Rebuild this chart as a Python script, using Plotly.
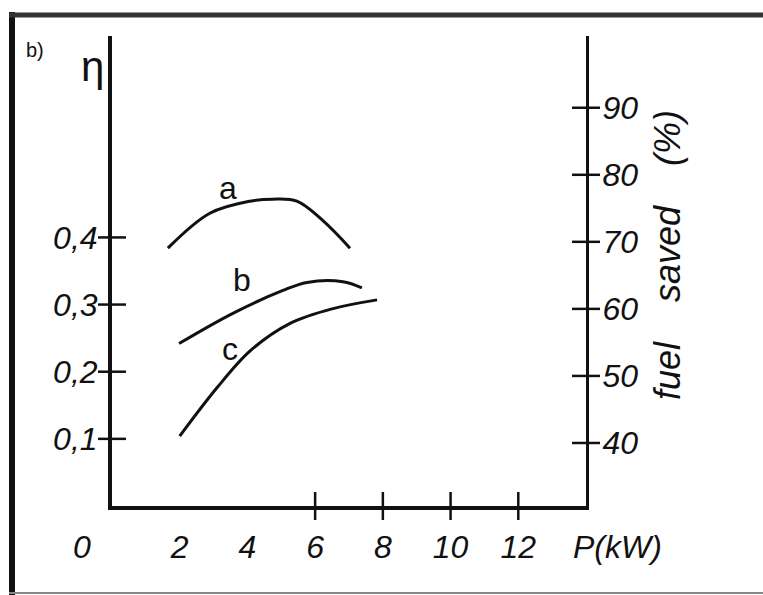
import plotly.graph_objects as go

# ---- data ----
P_a = [1.65, 2.89, 4.08, 4.75, 5.46, 6.23, 7.03]
eta_a = [0.384, 0.436, 0.454, 0.457, 0.454, 0.425, 0.384]

P_b = [1.98, 3.57, 5.05, 5.76, 6.82, 7.38]
eta_b = [0.242, 0.287, 0.321, 0.333, 0.334, 0.325]

P_c = [2.0, 3.1, 4.08, 5.26, 6.53, 7.83]
eta_c = [0.104, 0.176, 0.231, 0.272, 0.294, 0.307]

x_tickvals = [2, 4, 6, 8, 10, 12]
x_ticktext = ["2", "4", "6", "8", "10", "12"]
x_tickmarks = [6, 8, 10, 12]

eta_tickvals = [0.1, 0.2, 0.3, 0.4]
eta_ticktext = ["0,1", "0,2", "0,3", "0,4"]

fuel_tickvals = [40, 50, 60, 70, 80, 90]
fuel_ticktext = ["40", "50", "60", "70", "80", "90"]

curve_names = ["a", "b", "c"]
label_pos = [(3.43, 0.473), (3.84, 0.336), (3.48, 0.234)]

X_RANGE = [0, 14]
ETA_RANGE = [0, 0.70]
FUEL_RANGE = [30.6, 100.7]

FONT = "Liberation Sans"
ink = "#111111"

fig = go.Figure()
for P, eta in [(P_a, eta_a), (P_b, eta_b), (P_c, eta_c)]:
    fig.add_trace(go.Scatter(x=P, y=eta, mode="lines",
                             line=dict(color=ink, width=3, shape="spline", smoothing=1.0),
                             showlegend=False, hoverinfo="skip"))

# crossing tick marks
fig.add_trace(go.Scatter(x=[X_RANGE[0]] * len(eta_tickvals), y=eta_tickvals, mode="markers",
                         marker=dict(symbol="line-ew", size=20, line=dict(color=ink, width=2.5)),
                         cliponaxis=False, showlegend=False, hoverinfo="skip"))
fig.add_trace(go.Scatter(x=x_tickmarks, y=[ETA_RANGE[0]] * len(x_tickmarks), mode="markers",
                         marker=dict(symbol="line-ns", size=20, line=dict(color=ink, width=2.5)),
                         cliponaxis=False, showlegend=False, hoverinfo="skip"))
fig.add_trace(go.Scatter(x=[X_RANGE[1]] * len(fuel_tickvals), y=fuel_tickvals, mode="markers",
                         yaxis="y2",
                         marker=dict(symbol="line-ew", size=20, line=dict(color=ink, width=2.5)),
                         cliponaxis=False, showlegend=False, hoverinfo="skip"))

tickfont = dict(family=FONT, size=32, color=ink, style="italic")

fig.update_layout(
    width=763, height=595, autosize=False,
    margin=dict(l=112, r=177, t=36, b=89),
    paper_bgcolor="white", plot_bgcolor="white",
    xaxis=dict(range=X_RANGE, showline=True, linecolor=ink, linewidth=4,
               tickvals=x_tickvals, ticktext=x_ticktext, ticks="",
               ticklabelstandoff=10,
               showgrid=False, zeroline=False, tickfont=tickfont, fixedrange=True),
    yaxis=dict(range=ETA_RANGE, showline=True, linecolor=ink, linewidth=4,
               tickvals=eta_tickvals, ticktext=eta_ticktext, ticks="",
               ticklabelstandoff=4,
               showgrid=False, zeroline=False, tickfont=tickfont),
    yaxis2=dict(range=FUEL_RANGE, overlaying="y", side="right", anchor="x",
                showline=True, linecolor=ink, linewidth=3,
                tickvals=fuel_tickvals, ticktext=fuel_ticktext, ticks="",
                ticklabelstandoff=7,
                showgrid=False, zeroline=False, tickfont=tickfont),
)

def px2x(px):
    return (px - 112) / 474

def py2y(py):
    return (506 - py) / 470

c = dict(xanchor="center", yanchor="middle", showarrow=False)
ann = []
for name, (lx, ly) in zip(curve_names, label_pos):
    ann.append(dict(x=lx, y=ly, xref="x", yref="y", text=name,
                    font=dict(family=FONT, size=32, color=ink), **c))
ann += [
    dict(x=px2x(92), y=py2y(66), xref="paper", yref="paper", text="η",
         font=dict(family=FONT, size=42, color=ink), **c),
    dict(x=px2x(35), y=py2y(50), xref="paper", yref="paper", text="b)",
         font=dict(family=FONT, size=20, color=ink), **c),
    dict(x=px2x(82), y=py2y(547), xref="paper", yref="paper", text="0",
         font=tickfont, **c),
    dict(x=px2x(617), y=py2y(547), xref="paper", yref="paper", text="P(kW)",
         font=tickfont, **c),
    dict(x=px2x(668), y=py2y(255), xref="paper", yref="paper", text="fuel    saved    (%)",
         textangle=-90,
         font=dict(family=FONT, size=36, color=ink, style="italic"), **c),
]
fig.update_layout(annotations=ann)

# page frame of the scanned figure
fig.update_layout(shapes=[
    dict(type="line", xref="paper", yref="paper", x0=px2x(12), x1=px2x(12),
         y0=py2y(12), y1=py2y(600), line=dict(color=ink, width=6)),
    dict(type="line", xref="paper", yref="paper", x0=px2x(9), x1=px2x(770),
         y0=py2y(15), y1=py2y(15), line=dict(color="#333333", width=5)),
    dict(type="line", xref="paper", yref="paper", x0=px2x(9), x1=px2x(770),
         y0=py2y(593), y1=py2y(593), line=dict(color="#888888", width=2)),
])

fig.write_html("out.html")
